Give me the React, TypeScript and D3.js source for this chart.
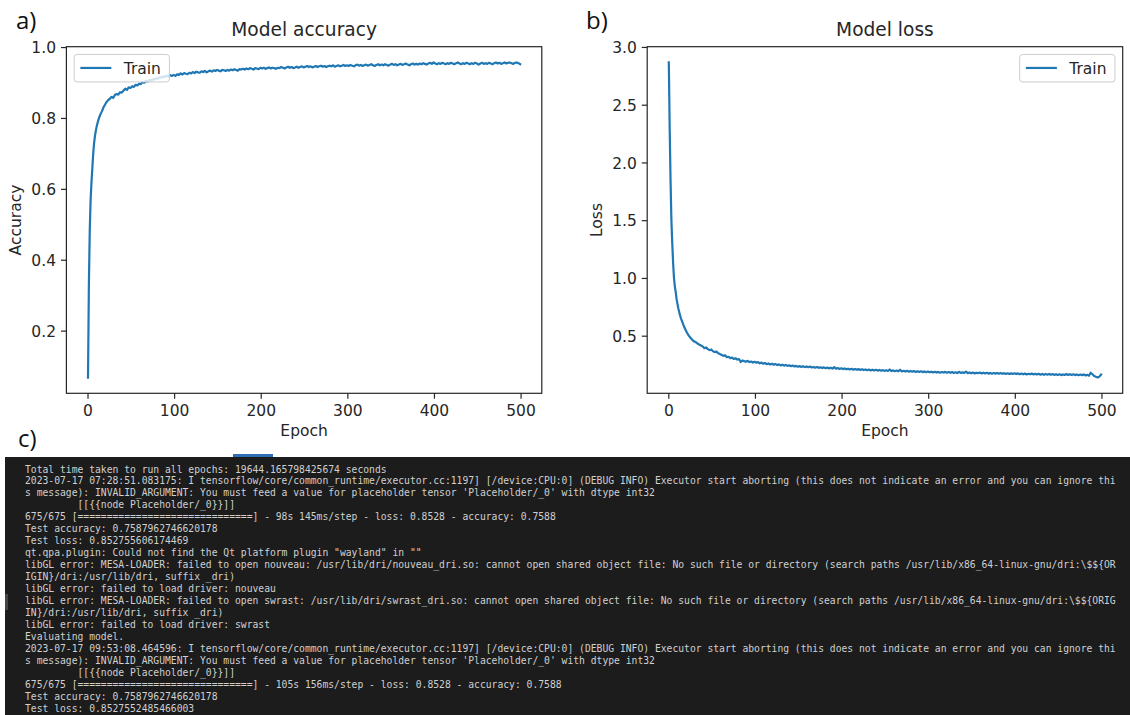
import React from 'react';
import * as d3 from 'd3';

// ---------- data ----------
const X_TICKS = [0, 100, 200, 300, 400, 500];
const ACC_Y_TICKS = [0.2, 0.4, 0.6, 0.8, 1.0];
const LOSS_Y_TICKS = [0.5, 1.0, 1.5, 2.0, 2.5, 3.0];

// epochs 0..19, one value per epoch
const ACC_EARLY = [0.069, 0.33, 0.48, 0.57, 0.62, 0.66, 0.70, 0.73, 0.75, 0.765, 0.777, 0.787, 0.796, 0.803, 0.81, 0.815, 0.82, 0.826, 0.832, 0.836];
// epochs 21, 23, ..., 499
const ACC_LATE = [
  0.845, 0.851, 0.855, 0.861, 0.858, 0.866, 0.869, 0.867, 0.874, 0.873,
  0.879, 0.884, 0.881, 0.888, 0.886, 0.891, 0.889, 0.895, 0.893, 0.898,
  0.897, 0.903, 0.901, 0.906, 0.904, 0.909, 0.907, 0.911, 0.910, 0.914,
  0.912, 0.917, 0.915, 0.919, 0.917, 0.921, 0.918, 0.922, 0.920, 0.923,
  0.920, 0.925, 0.923, 0.927, 0.924, 0.928, 0.926, 0.925, 0.929, 0.927,
  0.931, 0.928, 0.932, 0.930, 0.929, 0.933, 0.931, 0.934, 0.930, 0.933,
  0.935, 0.932, 0.936, 0.934, 0.937, 0.935, 0.933, 0.937, 0.936, 0.934,
  0.937, 0.935, 0.938, 0.936, 0.939, 0.937, 0.935, 0.939, 0.938, 0.940,
  0.938, 0.941, 0.939, 0.942, 0.940, 0.938, 0.942, 0.941, 0.939, 0.943,
  0.941, 0.943, 0.940, 0.942, 0.944, 0.941, 0.943, 0.942, 0.940, 0.943,
  0.942, 0.945, 0.943, 0.941, 0.944, 0.946, 0.943, 0.945, 0.942, 0.944,
  0.946, 0.943, 0.945, 0.947, 0.944, 0.946, 0.948, 0.945, 0.947, 0.944,
  0.946, 0.948, 0.945, 0.947, 0.949, 0.946, 0.948, 0.945, 0.947, 0.949,
  0.947, 0.950, 0.946, 0.948, 0.950, 0.947, 0.949, 0.951, 0.948, 0.950,
  0.948, 0.951, 0.949, 0.947, 0.950, 0.952, 0.949, 0.951, 0.948, 0.950,
  0.952, 0.949, 0.951, 0.953, 0.950, 0.948, 0.951, 0.953, 0.950, 0.952,
  0.950, 0.953, 0.951, 0.949, 0.952, 0.954, 0.951, 0.953, 0.950, 0.952,
  0.954, 0.951, 0.953, 0.955, 0.952, 0.950, 0.953, 0.955, 0.952, 0.954,
  0.952, 0.955, 0.953, 0.956, 0.954, 0.952, 0.955, 0.957, 0.954, 0.958,
  0.955, 0.953, 0.956, 0.954, 0.957, 0.955, 0.953, 0.956, 0.954, 0.957,
  0.955, 0.953, 0.956, 0.958, 0.955, 0.953, 0.956, 0.954, 0.957, 0.955,
  0.953, 0.956, 0.954, 0.957, 0.955, 0.952, 0.955, 0.957, 0.954, 0.956,
  0.954, 0.957, 0.955, 0.953, 0.956, 0.958, 0.955, 0.957, 0.954, 0.956,
  0.958, 0.955, 0.957, 0.958, 0.956, 0.954, 0.957, 0.958, 0.956, 0.953,
];

const LOSS_EARLY = [2.87, 2.30, 1.85, 1.50, 1.30, 1.13, 1.00, 0.93, 0.88, 0.82, 0.78, 0.74, 0.71, 0.68, 0.655, 0.635, 0.615, 0.595, 0.578, 0.56];
const LOSS_LATE = [
  0.530, 0.505, 0.487, 0.470, 0.455, 0.449, 0.437, 0.428, 0.420, 0.412,
  0.396, 0.403, 0.388, 0.379, 0.385, 0.370, 0.362, 0.367, 0.352, 0.345,
  0.338, 0.330, 0.334, 0.318, 0.322, 0.310, 0.315, 0.303, 0.309, 0.298,
  0.302, 0.276, 0.290, 0.284, 0.279, 0.287, 0.276, 0.281, 0.272, 0.278,
  0.270, 0.276, 0.265, 0.271, 0.262, 0.268, 0.258, 0.264, 0.255, 0.261,
  0.253, 0.259, 0.250, 0.256, 0.247, 0.253, 0.245, 0.251, 0.243, 0.248,
  0.240, 0.246, 0.238, 0.243, 0.236, 0.241, 0.234, 0.240, 0.232, 0.238,
  0.231, 0.237, 0.229, 0.234, 0.227, 0.233, 0.226, 0.231, 0.224, 0.230,
  0.223, 0.229, 0.221, 0.227, 0.219, 0.232, 0.218, 0.224, 0.216, 0.222,
  0.215, 0.221, 0.213, 0.219, 0.212, 0.218, 0.210, 0.216, 0.209, 0.215,
  0.208, 0.214, 0.207, 0.212, 0.205, 0.211, 0.204, 0.210, 0.203, 0.209,
  0.202, 0.208, 0.201, 0.206, 0.200, 0.205, 0.199, 0.212, 0.198, 0.204,
  0.197, 0.203, 0.196, 0.210, 0.195, 0.201, 0.194, 0.200, 0.193, 0.199,
  0.192, 0.198, 0.191, 0.197, 0.190, 0.196, 0.189, 0.195, 0.188, 0.194,
  0.187, 0.193, 0.186, 0.192, 0.185, 0.191, 0.184, 0.190, 0.185, 0.191,
  0.184, 0.190, 0.183, 0.189, 0.182, 0.188, 0.181, 0.192, 0.182, 0.187,
  0.181, 0.194, 0.180, 0.186, 0.179, 0.185, 0.178, 0.184, 0.179, 0.185,
  0.178, 0.184, 0.177, 0.183, 0.176, 0.182, 0.175, 0.181, 0.176, 0.182,
  0.175, 0.181, 0.174, 0.180, 0.173, 0.179, 0.172, 0.178, 0.173, 0.179,
  0.172, 0.178, 0.171, 0.177, 0.170, 0.176, 0.169, 0.175, 0.170, 0.176,
  0.169, 0.175, 0.168, 0.174, 0.167, 0.173, 0.166, 0.172, 0.167, 0.173,
  0.166, 0.172, 0.165, 0.171, 0.164, 0.170, 0.163, 0.169, 0.164, 0.172,
  0.165, 0.171, 0.164, 0.170, 0.163, 0.169, 0.162, 0.168, 0.163, 0.169,
  0.160, 0.166, 0.158, 0.184, 0.170, 0.155, 0.148, 0.142, 0.150, 0.168,
];

const TERMINAL_LINES = [
  'Total time taken to run all epochs: 19644.165798425674 seconds',
  '2023-07-17 07:28:51.083175: I tensorflow/core/common_runtime/executor.cc:1197] [/device:CPU:0] (DEBUG INFO) Executor start aborting (this does not indicate an error and you can ignore thi',
  "s message): INVALID_ARGUMENT: You must feed a value for placeholder tensor 'Placeholder/_0' with dtype int32",
  '         [[{{node Placeholder/_0}}]]',
  '675/675 [==============================] - 98s 145ms/step - loss: 0.8528 - accuracy: 0.7588',
  'Test accuracy: 0.7587962746620178',
  'Test loss: 0.852755606174469',
  'qt.qpa.plugin: Could not find the Qt platform plugin "wayland" in ""',
  'libGL error: MESA-LOADER: failed to open nouveau: /usr/lib/dri/nouveau_dri.so: cannot open shared object file: No such file or directory (search paths /usr/lib/x86_64-linux-gnu/dri:\\$${OR',
  'IGIN}/dri:/usr/lib/dri, suffix _dri)',
  'libGL error: failed to load driver: nouveau',
  'libGL error: MESA-LOADER: failed to open swrast: /usr/lib/dri/swrast_dri.so: cannot open shared object file: No such file or directory (search paths /usr/lib/x86_64-linux-gnu/dri:\\$${ORIG',
  'IN}/dri:/usr/lib/dri, suffix _dri)',
  'libGL error: failed to load driver: swrast',
  'Evaluating model.',
  '2023-07-17 09:53:08.464596: I tensorflow/core/common_runtime/executor.cc:1197] [/device:CPU:0] (DEBUG INFO) Executor start aborting (this does not indicate an error and you can ignore thi',
  "s message): INVALID_ARGUMENT: You must feed a value for placeholder tensor 'Placeholder/_0' with dtype int32",
  '         [[{{node Placeholder/_0}}]]',
  '675/675 [==============================] - 105s 156ms/step - loss: 0.8528 - accuracy: 0.7588',
  'Test accuracy: 0.7587962746620178',
  'Test loss: 0.8527552485466003',
];

// ---------- helpers ----------
type Pt = { e: number; v: number };
function buildSeries(early: number[], late: number[]): Pt[] {
  return [
    ...early.map((v, i) => ({ e: i, v })),
    ...late.map((v, i) => ({ e: 21 + 2 * i, v })),
  ];
}

const FONT = '"DejaVu Sans", sans-serif';
const FS = 15.5;
const TEXT = '#262626';
const BLUE = '#1f77b4';

function Panel(props: {
  left: number; right: number; top: number; bottom: number;
  pts: Pt[]; yTicks: number[]; title: string; ylabel: string; ylabelX: number; legendRight: boolean;
}) {
  const { left, right, top, bottom, pts, yTicks, title, ylabel, ylabelX, legendRight } = props;
  const xe = d3.extent(pts, (d) => d.e) as [number, number];
  const ye = d3.extent(pts, (d) => d.v) as [number, number];
  const xm = (xe[1] - xe[0]) * 0.05;
  const ym = (ye[1] - ye[0]) * 0.05;
  const x = d3.scaleLinear().domain([xe[0] - xm, xe[1] + xm]).range([left, right]);
  const y = d3.scaleLinear().domain([ye[0] - ym, ye[1] + ym]).range([bottom, top]);
  const line = d3.line<Pt>().x((d) => x(d.e)).y((d) => y(d.v));
  const cx = (left + right) / 2;
  const tickLen = 5.4;

  const pad = 0.4 * FS;
  const handle = 2 * FS;
  const textPad = 0.8 * FS;
  const textW = 2.547 * FS;
  const boxW = pad * 2 + handle + textPad + textW;
  const boxH = 27.5;
  const inset = 0.5 * FS;
  const bx = legendRight ? right - inset - boxW : left + inset;
  const by = top + inset;
  const ly = by + 13.5;

  return (
    <g fontFamily={FONT}>
      <text x={cx} y={36} textAnchor="middle" fontSize={18.6} fill={TEXT}>{title}</text>
      <path d={line(pts) || ''} fill="none" stroke={BLUE} strokeWidth={2.2} strokeLinejoin="round" strokeLinecap="square" />
      <rect x={left} y={top} width={right - left} height={bottom - top} fill="none" stroke={TEXT} strokeWidth={1.2} />
      {X_TICKS.map((t) => (
        <g key={'x' + t}>
          <line x1={x(t)} x2={x(t)} y1={bottom} y2={bottom + tickLen} stroke={TEXT} strokeWidth={1.2} />
          <text x={x(t)} y={415.5} textAnchor="middle" fontSize={FS} fill={TEXT}>{t}</text>
        </g>
      ))}
      {yTicks.map((t) => (
        <g key={'y' + t}>
          <line x1={left - tickLen} x2={left} y1={y(t)} y2={y(t)} stroke={TEXT} strokeWidth={1.2} />
          <text x={left - tickLen - 5} y={y(t)} dy="0.36em" textAnchor="end" fontSize={FS} fill={TEXT}>{t.toFixed(1)}</text>
        </g>
      ))}
      <text x={cx} y={436} textAnchor="middle" fontSize={FS} fill={TEXT}>Epoch</text>
      <text transform={`translate(${ylabelX},${(top + bottom) / 2}) rotate(-90)`} dy="0.36em" textAnchor="middle" fontSize={FS} fill={TEXT}>{ylabel}</text>
      <rect x={bx} y={by} width={boxW} height={boxH} rx={3} ry={3} fill="#ffffff" fillOpacity={0.8} stroke="#cccccc" strokeWidth={1} />
      <line x1={bx + pad} x2={bx + pad + handle} y1={ly} y2={ly} stroke={BLUE} strokeWidth={2.2} />
      <text x={bx + pad + handle + textPad} y={ly} dy="0.36em" fontSize={FS} fill={TEXT}>Train</text>
    </g>
  );
}

export default function App() {
  const acc = buildSeries(ACC_EARLY, ACC_LATE);
  const loss = buildSeries(LOSS_EARLY, LOSS_LATE);
  const lineH = 11.95;
  return (
    <svg width={1130} height={715} style={{ position: 'absolute', left: 0, top: 0, background: '#fff' }}>
      <rect x={0} y={0} width={1130} height={715} fill="#ffffff" />
      <g fontFamily='"Open Sans", sans-serif' fontSize={24} fill="#111">
        <text x={16} y={29}>a)</text>
        <text x={586} y={29}>b)</text>
        <text x={18} y={447}>c)</text>
      </g>
      <Panel left={66.4} right={541.8} top={46.7} bottom={393.3} pts={acc} yTicks={ACC_Y_TICKS}
        title="Model accuracy" ylabel="Accuracy" ylabelX={15} legendRight={false} />
      <Panel left={647.2} right={1122.7} top={46.7} bottom={393.3} pts={loss} yTicks={LOSS_Y_TICKS}
        title="Model loss" ylabel="Loss" ylabelX={596.3} legendRight={true} />
      <rect x={5} y={457} width={1125} height={258} fill="#1c1c1c" />
      <rect x={233} y={454} width={40} height={3} fill="#2f6db5" />
      <rect x={5} y={594} width={3} height={16} fill="#444" />
      <g fontFamily='"DejaVu Sans Mono", monospace' fontSize={9.7} fill="#d0d0d0" style={{ whiteSpace: 'pre' }}>
        {TERMINAL_LINES.map((s, i) => (
          <text key={i} x={25} y={472.5 + i * lineH} xmlSpace="preserve">{s}</text>
        ))}
      </g>
    </svg>
  );
}
